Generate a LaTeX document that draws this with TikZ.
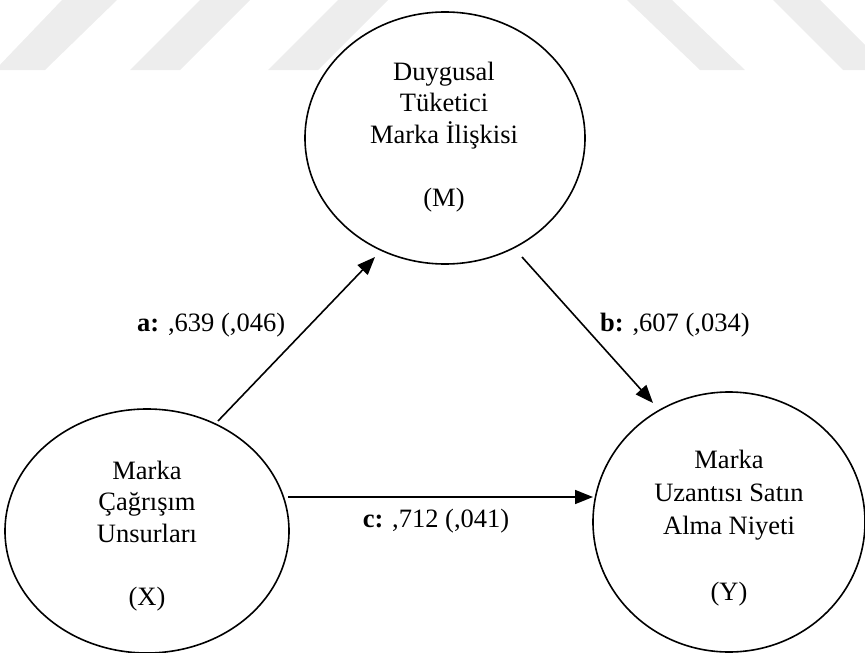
\documentclass[tikz,border=0pt]{standalone}
\usepackage{fontspec}
\setmainfont{Liberation Serif}
\usetikzlibrary{shapes.geometric,arrows.meta}
\tikzset{
  ell/.style={draw=black, line width=1.6pt, fill=white, ellipse, inner sep=0pt},
  txt/.style={align=center, inner sep=0pt, font=\fontsize{26.5}{31.5}\selectfont},
  arr/.style={line width=1.6pt, -{Triangle[length=18pt,width=14pt]}},
  lab/.style={font=\fontsize{26.5}{31.5}\selectfont, inner sep=0pt},
  wm/.style={fill=black!7, draw=none}
}
\begin{document}
\begin{tikzpicture}[x=1pt,y=-1pt]
\useasboundingbox (0,0) rectangle (865,653);
% watermark stripes
\fill[wm] (-5,70) -- (45,70) -- (117,0) -- (62,0) -- cycle;
\fill[wm] (130,70) -- (180,70) -- (250,0) -- (200,0) -- cycle;
\fill[wm] (268,70) -- (318,70) -- (388,0) -- (338,0) -- cycle;
\fill[wm] (627,0) -- (672,0) -- (745,70) -- (700,70) -- cycle;
\fill[wm] (773,0) -- (820,0) -- (890,70) -- (843,70) -- cycle;
% ellipses
\node[ell, minimum width=280pt, minimum height=252pt] (M) at (445,138) {};
\node[ell, minimum width=284pt, minimum height=244pt] (X) at (147,531) {};
\node[ell, minimum width=272pt, minimum height=260pt] (Y) at (729,522) {};
% ellipse texts
\node[txt] (Mt) at (444,137) {Duygusal\\Tüketici\\Marka İlişkisi\\ \\(M)};
\node[txt] (Xt) at (147,536) {Marka\\Çağrışım\\Unsurları\\ \\(X)};
\node[txt, font=\fontsize{26.5}{33}\selectfont] (Yt) at (729,528) {Marka\\Uzantısı Satın\\Alma Niyeti\\ \\(Y)};
% connector end points
\coordinate (a1) at (218,421);
\coordinate (a2) at (375,257);
\coordinate (b1) at (522,257);
\coordinate (b2) at (653,403);
\coordinate (c1) at (288,497);
\coordinate (c2) at (593,497);
\draw[arr] (a1) -- (a2);
\draw[arr] (b1) -- (b2);
\draw[arr] (c1) -- (c2);
% labels
\node[lab, anchor=west] (la) at (137,325) {\textbf{a:} ,639 (,046)};
\node[lab, anchor=west] (lb) at (600,325) {\textbf{b:} ,607 (,034)};
\node[lab] (lc) at (436,521) {\textbf{c:} ,712 (,041)};
\end{tikzpicture}
\end{document}
